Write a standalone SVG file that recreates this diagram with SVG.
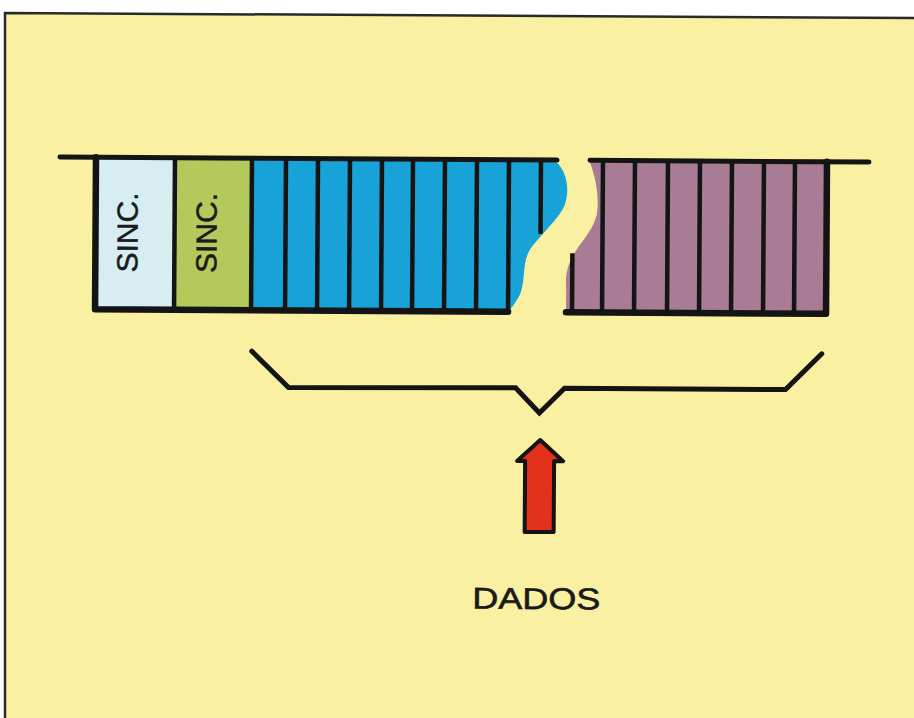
<svg xmlns="http://www.w3.org/2000/svg" width="914" height="718" viewBox="0 0 914 718">
  <style>
    .ink { stroke: #141414; fill: none; stroke-linecap: round; }
    .bar { stroke: #141414; stroke-width: 4.5; }
    .sinc { font-family: "Liberation Sans", Arial, sans-serif; font-size: 29px; fill: #1a1a1a; stroke: #1a1a1a; stroke-width: 0.5; }
    .lbl { font-family: "Liberation Sans", Arial, sans-serif; font-size: 30px; fill: #1a1a1a; stroke: #1a1a1a; stroke-width: 0.6; }
  </style>
  <rect x="0" y="0" width="914" height="718" fill="#ffffff"/>
  <path d="M5,13 L914,18 L914,718 L5,718 Z" fill="#f9f0a2"/>
  <path d="M5,718 L5,13 L914,18" fill="none" stroke="#2a2a2a" stroke-width="2.5"/>

  <g transform="rotate(0.36 60 157)">
    <g id="sinc1">
      <rect x="98" y="159" width="77" height="148" fill="#d6edf2"/>
      <text class="sinc" transform="translate(138,232) rotate(-90)" text-anchor="middle" textLength="80" lengthAdjust="spacingAndGlyphs">SINC.</text>
    </g>
    <g id="sinc2">
      <rect x="175" y="159" width="77" height="148" fill="#b4c95b"/>
      <text class="sinc" transform="translate(217,232) rotate(-90)" text-anchor="middle" textLength="80" lengthAdjust="spacingAndGlyphs">SINC.</text>
    </g>
    <g id="data-blue">
      <path d="M252,159 L556,159 C568,168 571,192 563,206 C556,218 545,228 533,243 C523,256 526,270 523,284 C521,294 515,302 509,309 L252,309 Z" fill="#18a3d8"/>
      <g class="bar">
        <line x1="286" y1="158" x2="286" y2="309"/>
        <line x1="318" y1="158" x2="318" y2="309"/>
        <line x1="350" y1="158" x2="350" y2="309"/>
        <line x1="382" y1="158" x2="382" y2="309"/>
        <line x1="413" y1="158" x2="413" y2="309"/>
        <line x1="445" y1="158" x2="445" y2="309"/>
        <line x1="477" y1="158" x2="477" y2="309"/>
        <line x1="509" y1="158" x2="509" y2="309"/>
        <line x1="541" y1="158" x2="541" y2="231"/>
      </g>
    </g>
    <g id="data-purple">
      <path d="M590,159 C596,175 600,195 597,212 C592,230 580,240 574,252 C568,262 566,272 567,285 L567,309 L826,309 L826,159 Z" fill="#a77c94"/>
      <g class="bar">
        <line x1="573" y1="250" x2="573" y2="309"/>
        <line x1="603" y1="158" x2="603" y2="309"/>
        <line x1="635" y1="158" x2="635" y2="309"/>
        <line x1="668" y1="158" x2="668" y2="309"/>
        <line x1="700" y1="158" x2="700" y2="309"/>
        <line x1="732" y1="158" x2="732" y2="309"/>
        <line x1="764" y1="158" x2="764" y2="309"/>
        <line x1="795" y1="158" x2="795" y2="309"/>
      </g>
    </g>
    <g id="frame">
      <path class="ink" stroke-width="5" d="M60,157 L557,157 M590,157 L869,157"/>
      <path class="ink" stroke-width="6.5" stroke-linejoin="round" d="M96,157 L96,309 L509,309"/>
      <path class="ink" stroke-width="6.5" stroke-linejoin="round" d="M567,309 L827,309 L827,157"/>
      <line class="bar" x1="175" y1="158" x2="175" y2="309"/>
      <line class="bar" x1="252" y1="158" x2="252" y2="309"/>
    </g>
    <g id="connectors">
      <path class="ink" stroke-width="5" stroke-linejoin="miter" d="M253,350 L290,386 L517,385 L541,410 L566,385 L787,385 L823,349"/>
      <path d="M542,437 L565,458 L556,458 L556,529 L527,529 L527,458 L519,458 Z" fill="#e3321b" stroke="#141414" stroke-width="4" stroke-linejoin="round"/>
    </g>
    <g id="label">
      <text class="lbl" x="475" y="606" textLength="128" lengthAdjust="spacingAndGlyphs">DADOS</text>
    </g>
  </g>
</svg>
